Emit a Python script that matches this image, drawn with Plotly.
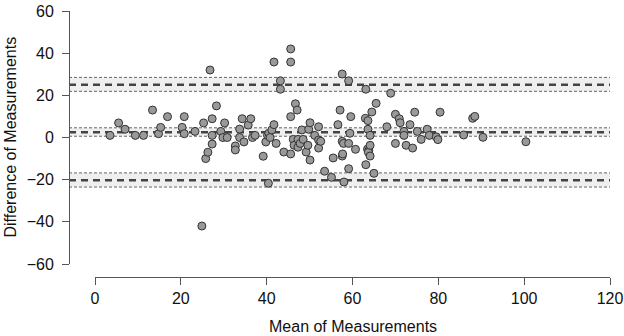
import plotly.graph_objects as go

# Bland-Altman data: mean of measurements (x) vs difference (y)
mean_vals = [3.5, 5.5, 7.0, 9.4, 11.3, 13.4, 14.8, 15.3, 16.9, 20.3, 20.8, 20.8, 23.3, 24.9,
             25.3, 25.8, 26.3, 26.8, 27.3, 27.3, 27.3, 28.3, 29.3, 29.8, 30.2, 30.8, 32.7, 32.7,
             33.7, 33.7, 34.3, 34.7, 35.7, 36.3, 36.7, 37.3, 39.2, 39.8, 40.2, 40.4, 40.5, 40.8,
             41.2, 41.7, 41.7, 42.2, 43.2, 43.2, 44.0, 45.6, 45.6, 45.6, 45.6, 46.2, 46.4, 46.7,
             47.1, 47.3, 47.3, 47.8, 48.2, 48.5, 49.2, 49.6, 49.8, 50.1, 50.1, 51.2, 52.1, 52.1,
             52.1, 52.6, 53.5, 55.1, 55.5, 56.6, 57.1, 57.6, 57.6, 57.6, 57.7, 57.9, 58.0, 59.1,
             59.1, 59.1, 59.4, 59.6, 60.7, 63.0, 63.1, 63.1, 63.6, 63.6, 63.5, 63.8, 63.7, 64.1,
             64.1, 64.1, 64.5, 65.0, 65.5, 68.0, 68.9, 70.0, 70.0, 70.9, 71.1, 72.0, 72.0, 72.5,
             73.4, 74.0, 74.5, 75.1, 76.0, 77.4, 77.9, 79.5, 79.9, 80.4, 85.9, 88.0, 88.5, 90.4,
             100.4]
diff_vals = [1.0, 6.9, 3.9, 1.0, 1.0, 13.0, 1.8, 4.8, 9.9, 4.8, 9.9, 1.8, 2.9, -42.0,
             6.9, -10.0, -7.0, 32.0, 8.9, 1.0, -3.1, 15.0, 2.9, 0.0, 6.9, 0.0, -4.0, -5.9,
             4.0, 0.0, 8.9, -2.1, 5.9, 8.9, 0.0, 1.0, -8.9, -2.1, 1.0, -21.7, 2.0, 0.0,
             3.6, 6.1, 35.8, -2.8, 26.9, 22.9, -6.9, 42.0, 35.8, 9.9, -7.8, -0.9, -3.7, 16.0,
             13.0, -0.9, -4.6, -2.8, 3.6, -0.9, -6.9, -3.7, 3.9, 7.0, -10.7, 1.0, 5.1, -1.2,
             -5.0, -1.8, -16.0, -18.9, -9.7, 6.1, 13.0, 30.1, -1.8, -8.8, -7.8, -2.8, -21.1, 26.9,
             -2.8, -14.8, 2.0, 9.9, -5.6, 9.1, 22.9, -12.9, 8.0, 3.9, -5.5, -6.2, -7.0, 1.0,
             -3.7, -8.8, 12.1, -17.0, 16.2, 5.1, 21.0, 11.0, -2.8, 8.9, 7.0, 2.9, 1.0, -3.7,
             6.1, -5.0, 12.0, 2.9, -0.9, 3.9, 1.0, 0.3, -1.0, 12.0, 1.2, 9.1, 10.0, 0.1,
             -2.0]

# Bias and limits of agreement (line value, CI low, CI high)
bias = [2.5, 0.6, 4.6]
upper_loa = [25.0, 21.9, 28.5]
lower_loa = [-20.3, -23.5, -16.8]

y_ticks = [-60, -40, -20, 0, 20, 40, 60]
x_ticks = [0, 20, 40, 60, 80, 100, 120]
x_title = "Mean of Measurements"
y_title = "Difference of Measurements"

FONT = "Liberation Sans, Arial, Helvetica, sans-serif"
AXC = "#555555"
TXT = "#111111"

fig = go.Figure()

shapes = []
for val, lo, hi in (bias, upper_loa, lower_loa):
    shapes.append(dict(type="rect", xref="paper", yref="y", x0=0, x1=1, y0=lo, y1=hi,
                       fillcolor="#efefef", line=dict(width=0), layer="below"))
    for v in (lo, hi):
        shapes.append(dict(type="line", xref="paper", yref="y", x0=0, x1=1, y0=v, y1=v,
                           line=dict(color="#666666", width=1, dash="3px,2px"), layer="below"))
    shapes.append(dict(type="line", xref="paper", yref="y", x0=0, x1=1, y0=val, y1=val,
                       line=dict(color="#444444", width=2.5, dash="7px,5px"), layer="below"))

fig.add_trace(go.Scatter(
    x=mean_vals, y=diff_vals, mode="markers",
    marker=dict(size=8, color="#999999", line=dict(color="#333333", width=1)),
    showlegend=False, hoverinfo="x+y"))

W, H = 624, 336
ml, mr, mt, mb = 69, 14, 11, 59
pw = W - ml - mr
ph = H - mt - mb
x0_px = 95
y_bot_px = 264
ydom0 = (H - mb - y_bot_px) / ph
xdom0 = (x0_px - ml) / pw

annotations = [
    dict(text=x_title, xref="paper", yref="paper", x=(xdom0 + 1) / 2, y=0,
         xanchor="center", yanchor="middle", yshift=-49, showarrow=False,
         font=dict(family=FONT, size=16, color=TXT)),
    dict(text=y_title, xref="paper", yref="paper", x=0, y=(ydom0 + 1) / 2,
         xanchor="center", yanchor="middle", xshift=-(ml - 10), textangle=-90,
         showarrow=False, font=dict(family=FONT, size=16, color=TXT)),
]

fig.update_layout(
    width=W, height=H,
    margin=dict(l=ml, r=mr, t=mt, b=mb, pad=0, autoexpand=False),
    paper_bgcolor="white", plot_bgcolor="rgba(0,0,0,0)",
    font=dict(family=FONT, size=16, color=TXT),
    shapes=shapes,
    annotations=annotations,
    xaxis=dict(domain=[xdom0, 1], range=[0, 120], anchor="free", position=0,
               tickvals=x_ticks, ticks="outside", ticklen=7, tickwidth=1, tickcolor=AXC,
               showline=True, linecolor=AXC, linewidth=1, showgrid=False, zeroline=False,
               automargin=False, tickfont=dict(size=16)),
    yaxis=dict(domain=[ydom0, 1], range=[-60, 60], anchor="free", position=0,
               tickvals=y_ticks, ticks="outside", ticklen=7, tickwidth=1, tickcolor=AXC,
               showline=True, linecolor=AXC, linewidth=1, showgrid=False, zeroline=False,
               automargin=False, ticklabelstandoff=5, tickfont=dict(size=16)),
)

fig.write_html("out.html",
               config={"displayModeBar": False},
               post_script="document.body.style.margin='0px';document.body.style.overflow='hidden';")
